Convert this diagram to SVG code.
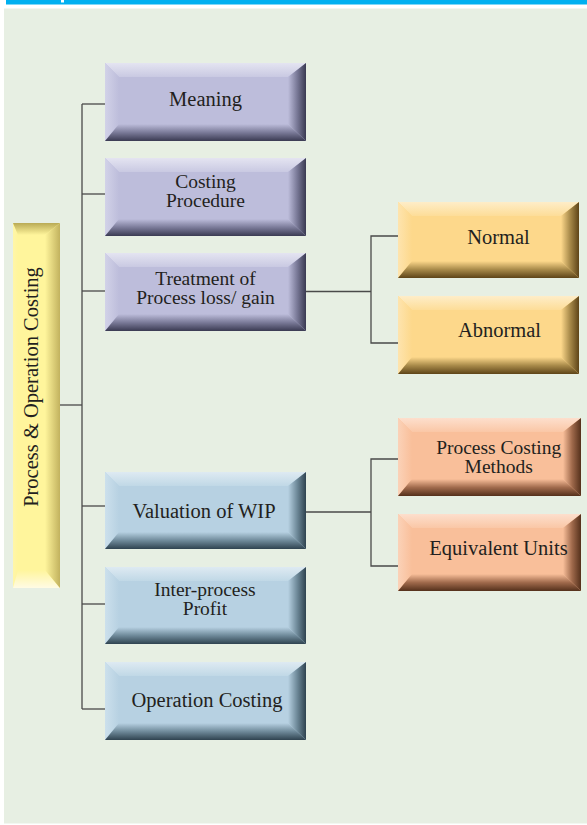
<svg xmlns="http://www.w3.org/2000/svg" width="587" height="825" viewBox="0 0 587 825">
<defs>
<linearGradient id="pTop" x1="0" y1="0" x2="0" y2="1"><stop offset="0" stop-color="#E4E4F1"/><stop offset="1" stop-color="#C9C9E2"/></linearGradient>
<linearGradient id="pLeft" x1="0" y1="0" x2="1" y2="0"><stop offset="0" stop-color="#D2D2E8"/><stop offset="1" stop-color="#BDBDDB"/></linearGradient>
<linearGradient id="pBot" x1="0" y1="0" x2="0" y2="1"><stop offset="0" stop-color="#BDBDDB"/><stop offset="0.5" stop-color="#7A7A98"/><stop offset="1" stop-color="#3A3A52"/></linearGradient>
<linearGradient id="pRight" x1="0" y1="0" x2="1" y2="0"><stop offset="0" stop-color="#BDBDDB"/><stop offset="0.5" stop-color="#7A7A98"/><stop offset="1" stop-color="#3A3A52"/></linearGradient>

<linearGradient id="bTop" x1="0" y1="0" x2="0" y2="1"><stop offset="0" stop-color="#DEEAF2"/><stop offset="1" stop-color="#C0D8E6"/></linearGradient>
<linearGradient id="bLeft" x1="0" y1="0" x2="1" y2="0"><stop offset="0" stop-color="#CCE0EC"/><stop offset="1" stop-color="#B7D1E2"/></linearGradient>
<linearGradient id="bBot" x1="0" y1="0" x2="0" y2="1"><stop offset="0" stop-color="#B7D1E2"/><stop offset="0.5" stop-color="#6F8A9A"/><stop offset="1" stop-color="#2F4350"/></linearGradient>
<linearGradient id="bRight" x1="0" y1="0" x2="1" y2="0"><stop offset="0" stop-color="#B7D1E2"/><stop offset="0.5" stop-color="#6F8A9A"/><stop offset="1" stop-color="#2F4350"/></linearGradient>

<linearGradient id="yTop" x1="0" y1="0" x2="0" y2="1"><stop offset="0" stop-color="#FEEDC8"/><stop offset="1" stop-color="#FDDD98"/></linearGradient>
<linearGradient id="yLeft" x1="0" y1="0" x2="1" y2="0"><stop offset="0" stop-color="#FEE4AE"/><stop offset="1" stop-color="#FDD88B"/></linearGradient>
<linearGradient id="yBot" x1="0" y1="0" x2="0" y2="1"><stop offset="0" stop-color="#FDD88B"/><stop offset="0.5" stop-color="#A88A4A"/><stop offset="1" stop-color="#5E4418"/></linearGradient>
<linearGradient id="yRight" x1="0" y1="0" x2="1" y2="0"><stop offset="0" stop-color="#FDD88B"/><stop offset="0.5" stop-color="#A88A4A"/><stop offset="1" stop-color="#5E4418"/></linearGradient>

<linearGradient id="oTop" x1="0" y1="0" x2="0" y2="1"><stop offset="0" stop-color="#FDDFCD"/><stop offset="1" stop-color="#FAC7A6"/></linearGradient>
<linearGradient id="oLeft" x1="0" y1="0" x2="1" y2="0"><stop offset="0" stop-color="#FBD2B8"/><stop offset="1" stop-color="#F9BF9A"/></linearGradient>
<linearGradient id="oBot" x1="0" y1="0" x2="0" y2="1"><stop offset="0" stop-color="#F9BF9A"/><stop offset="0.5" stop-color="#A06A4C"/><stop offset="1" stop-color="#54301B"/></linearGradient>
<linearGradient id="oRight" x1="0" y1="0" x2="1" y2="0"><stop offset="0" stop-color="#F9BF9A"/><stop offset="0.5" stop-color="#A06A4C"/><stop offset="1" stop-color="#54301B"/></linearGradient>

<linearGradient id="lTop" x1="0" y1="0" x2="0" y2="1"><stop offset="0" stop-color="#B9AA55"/><stop offset="1" stop-color="#FFF59C"/></linearGradient>
<linearGradient id="lBot" x1="0" y1="0" x2="0" y2="1"><stop offset="0" stop-color="#FFF59C"/><stop offset="1" stop-color="#FFFBE4"/></linearGradient>
<linearGradient id="lRight" x1="0" y1="0" x2="1" y2="0"><stop offset="0" stop-color="#FFF59C"/><stop offset="1" stop-color="#C2B25E"/></linearGradient>
<linearGradient id="lLeft" x1="0" y1="0" x2="1" y2="0"><stop offset="0" stop-color="#FFF6A8"/><stop offset="1" stop-color="#FFF59C"/></linearGradient>
</defs>
<style>
text{font-family:"Liberation Serif","Times New Roman",serif;font-size:20.5px;fill:#231F20;text-anchor:middle}
text.two{font-size:19.5px}
.conn line,.conn polyline{stroke:#4A4A4A;stroke-width:1.3;fill:none}
.p .face{fill:#BDBDDB}.p .t{fill:url(#pTop)}.p .l{fill:url(#pLeft)}.p .b{fill:url(#pBot)}.p .r{fill:url(#pRight)}
.bl .face{fill:#B7D1E2}.bl .t{fill:url(#bTop)}.bl .l{fill:url(#bLeft)}.bl .b{fill:url(#bBot)}.bl .r{fill:url(#bRight)}
.y .face{fill:#FDD88B}.y .t{fill:url(#yTop)}.y .l{fill:url(#yLeft)}.y .b{fill:url(#yBot)}.y .r{fill:url(#yRight)}
.o .face{fill:#F9BF9A}.o .t{fill:url(#oTop)}.o .l{fill:url(#oLeft)}.o .b{fill:url(#oBot)}.o .r{fill:url(#oRight)}
</style>

<rect x="0" y="0" width="587" height="825" fill="#FFFFFF"/>
<rect x="6" y="0" width="581" height="4.5" fill="#00B0F0"/>
<rect x="61" y="0" width="3" height="2.5" fill="#FFFFFF"/>
<rect x="4" y="8.5" width="583" height="815" fill="#E7EFE3"/>

<g class="conn">
<line x1="82" y1="104" x2="82" y2="709"/>
<line x1="60" y1="405" x2="82" y2="405"/>
<line x1="82" y1="104" x2="105" y2="104"/>
<line x1="82" y1="194" x2="105" y2="194"/>
<line x1="82" y1="291" x2="105" y2="291"/>
<line x1="82" y1="506" x2="105" y2="506"/>
<line x1="82" y1="604" x2="105" y2="604"/>
<line x1="82" y1="709" x2="105" y2="709"/>
<line x1="306" y1="291.5" x2="371" y2="291.5"/>
<polyline points="398,236 371,236 371,343 398,343"/>
<line x1="306" y1="512" x2="371" y2="512"/>
<polyline points="398,459 371,459 371,566 398,566"/>
</g>

<g id="root">
<rect x="13" y="223" width="47" height="365" fill="#FFF59C"/>
<polygon points="13,223 13,588 18,580 18,235" fill="url(#lLeft)"/>
<polygon points="13,223 60,223 45,235 18,235" fill="url(#lTop)"/>
<polygon points="13,588 60,588 45,570 18,570" fill="url(#lBot)"/>
<polygon points="60,223 60,588 45,570 45,235" fill="url(#lRight)"/>
<text transform="translate(37.5,387) rotate(-90)">Process &amp; Operation Costing</text>
</g>

<g id="n-meaning" class="p">
<rect class="face" x="105" y="63" width="201" height="78"/>
<polygon class="t" points="105,63 306,63 288,77 119,77"/>
<polygon class="l" points="105,63 105,141 119,124 119,77"/>
<polygon class="b" points="105,141 306,141 288,124 119,124"/>
<polygon class="r" points="306,63 306,141 288,124 288,77"/>
<text x="205.5" y="105.5">Meaning</text>
</g>

<g id="n-procedure" class="p">
<rect class="face" x="105" y="158" width="201" height="78"/>
<polygon class="t" points="105,158 306,158 288,172 119,172"/>
<polygon class="l" points="105,158 105,236 119,219 119,172"/>
<polygon class="b" points="105,236 306,236 288,219 119,219"/>
<polygon class="r" points="306,158 306,236 288,219 288,172"/>
<text class="two" x="205.5" y="188">Costing</text>
<text class="two" x="205.5" y="207">Procedure</text>
</g>

<g id="n-treatment" class="p">
<rect class="face" x="105" y="253" width="201" height="78"/>
<polygon class="t" points="105,253 306,253 288,267 119,267"/>
<polygon class="l" points="105,253 105,331 119,314 119,267"/>
<polygon class="b" points="105,331 306,331 288,314 119,314"/>
<polygon class="r" points="306,253 306,331 288,314 288,267"/>
<text class="two" x="205.5" y="284.5">Treatment of</text>
<text class="two" x="205.5" y="303.5">Process loss/ gain</text>
</g>

<g id="n-normal" class="y">
<rect class="face" x="398" y="202" width="181" height="76"/>
<polygon class="t" points="398,202 579,202 561,216 412,216"/>
<polygon class="l" points="398,202 398,278 412,261 412,216"/>
<polygon class="b" points="398,278 579,278 561,261 412,261"/>
<polygon class="r" points="579,202 579,278 561,261 561,216"/>
<text x="498.5" y="244">Normal</text>
</g>

<g id="n-abnormal" class="y">
<rect class="face" x="398" y="296" width="181" height="78"/>
<polygon class="t" points="398,296 579,296 561,310 412,310"/>
<polygon class="l" points="398,296 398,374 412,357 412,310"/>
<polygon class="b" points="398,374 579,374 561,357 412,357"/>
<polygon class="r" points="579,296 579,374 561,357 561,310"/>
<text x="499.5" y="336.7">Abnormal</text>
</g>

<g id="n-methods" class="o">
<rect class="face" x="398" y="418" width="183" height="78"/>
<polygon class="t" points="398,418 581,418 563,432 412,432"/>
<polygon class="l" points="398,418 398,496 412,479 412,432"/>
<polygon class="b" points="398,496 581,496 563,479 412,479"/>
<polygon class="r" points="581,418 581,496 563,479 563,432"/>
<text class="two" x="498.7" y="453.5">Process Costing</text>
<text class="two" x="498.7" y="472.5">Methods</text>
</g>

<g id="n-equivalent" class="o">
<rect class="face" x="398" y="514" width="183" height="77"/>
<polygon class="t" points="398,514 581,514 563,528 412,528"/>
<polygon class="l" points="398,514 398,591 412,574 412,528"/>
<polygon class="b" points="398,591 581,591 563,574 412,574"/>
<polygon class="r" points="581,514 581,591 563,574 563,528"/>
<text x="498.5" y="555">Equivalent Units</text>
</g>

<g id="n-wip" class="bl">
<rect class="face" x="105" y="472" width="201" height="77"/>
<polygon class="t" points="105,472 306,472 288,486 119,486"/>
<polygon class="l" points="105,472 105,549 119,532 119,486"/>
<polygon class="b" points="105,549 306,549 288,532 119,532"/>
<polygon class="r" points="306,472 306,549 288,532 288,486"/>
<text x="204" y="518.3">Valuation of WIP</text>
</g>

<g id="n-interprocess" class="bl">
<rect class="face" x="105" y="567" width="201" height="77"/>
<polygon class="t" points="105,567 306,567 288,581 119,581"/>
<polygon class="l" points="105,567 105,644 119,627 119,581"/>
<polygon class="b" points="105,644 306,644 288,627 119,627"/>
<polygon class="r" points="306,567 306,644 288,627 288,581"/>
<text class="two" x="205" y="595.5">Inter-process</text>
<text class="two" x="205" y="614.5">Profit</text>
</g>

<g id="n-operation" class="bl">
<rect class="face" x="105" y="662" width="201" height="78"/>
<polygon class="t" points="105,662 306,662 288,676 119,676"/>
<polygon class="l" points="105,662 105,740 119,723 119,676"/>
<polygon class="b" points="105,740 306,740 288,723 119,723"/>
<polygon class="r" points="306,662 306,740 288,723 288,676"/>
<text x="207" y="706.7">Operation Costing</text>
</g>
</svg>
